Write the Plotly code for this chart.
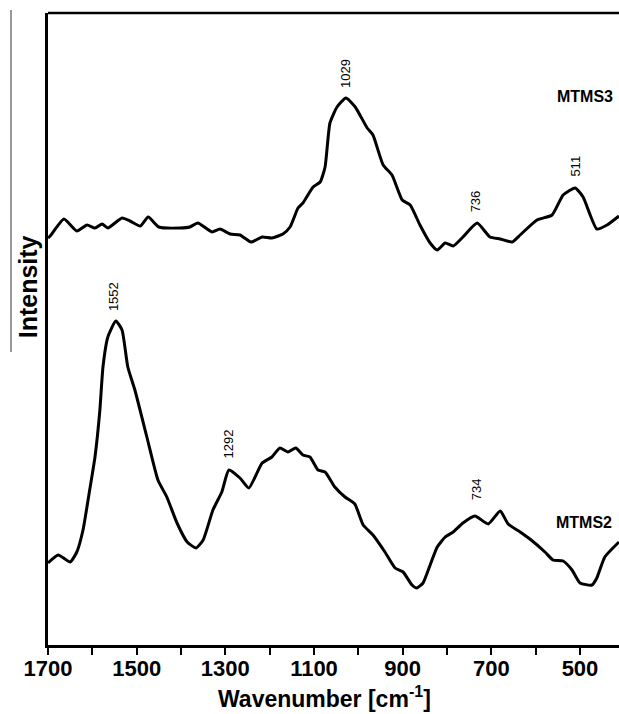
import plotly.graph_objects as go

# MTMS3 spectrum (wavenumber, intensity in arbitrary units)
w3 = [1700, 1695, 1664, 1635, 1612, 1594, 1578, 1565, 1533, 1515, 1492, 1474, 1450, 1402, 1380, 1362,
      1330, 1312, 1289, 1267, 1242, 1217, 1195, 1170, 1154, 1136, 1125, 1102, 1086, 1075, 1064, 1048,
      1028, 1007, 980, 967, 944, 924, 901, 883, 861, 838, 822, 804, 786, 764, 732, 703, 680, 653, 635,
      597, 563, 538, 511, 493, 462, 439, 412]
i3 = [407, 409, 426, 414, 420, 417, 421, 417, 427, 424, 419, 428, 418, 417, 418, 422,
      413, 416, 411, 410, 403, 408, 407, 411, 418, 437, 442, 458, 463, 478, 522, 538,
      547, 538, 517, 510, 480, 470, 445, 440, 420, 402, 395, 402, 399, 408, 422, 408, 406, 403, 410,
      425, 430, 450, 457, 448, 416, 420, 429]

# MTMS2 spectrum
w2 = [1700, 1677, 1650, 1635, 1621, 1606, 1594, 1583, 1576, 1565, 1547, 1533, 1520, 1504, 1477, 1452,
      1432, 1409, 1386, 1366, 1350, 1328, 1308, 1292, 1267, 1247, 1217, 1195, 1177, 1159, 1141, 1125,
      1109, 1091, 1075, 1053, 1030, 1008, 989, 967, 940, 917, 899, 879, 868, 854, 838, 822, 804, 786,
      764, 737, 707, 680, 662, 635, 613, 579, 561, 538, 518, 500, 473, 462, 444, 412]
i2 = [82, 90, 83, 93, 115, 155, 188, 235, 278, 308, 324, 315, 278, 255, 208, 165,
      148, 122, 103, 97, 105, 135, 153, 175, 167, 157, 182, 188, 197, 193, 197, 190,
      188, 175, 173, 158, 148, 141, 120, 110, 93, 77, 73, 60, 57, 62, 80, 98, 108, 113,
      122, 129, 121, 134, 121, 113, 106, 93, 85, 84, 75, 62, 60, 67, 88, 103]

# peak labels
peak_labels = ["1029", "736", "511", "1552", "1292", "734"]
peak_x = [1029, 736, 511, 1552, 1292, 734]
peak_y = [555, 431, 466, 332, 185, 143]

# series labels
series_names = ["MTMS3", "MTMS2"]
series_label_x = [489, 491]
series_label_y = [549, 123]

x_ticks = [1700, 1500, 1300, 1100, 900, 700, 500]

FONT = "Liberation Sans, Arial, sans-serif"

fig = go.Figure()
for w, i, name in [(w3, i3, "MTMS3"), (w2, i2, "MTMS2")]:
    fig.add_trace(go.Scatter(x=w, y=i, mode="lines", name=name,
                             line=dict(color="black", width=3, shape="spline", smoothing=0.5),
                             showlegend=False, hoverinfo="skip"))

annotations = []
for lab, x, y in zip(peak_labels, peak_x, peak_y):
    annotations.append(dict(x=x, y=y, xref="x", yref="y", text=lab, showarrow=False,
                            textangle=-90, xanchor="center", yanchor="bottom",
                            font=dict(family=FONT, size=13, color="black")))
for lab, x, y in zip(series_names, series_label_x, series_label_y):
    annotations.append(dict(x=x, y=y, xref="x", yref="y", text="<b>" + lab + "</b>", showarrow=False,
                            xanchor="center", yanchor="middle",
                            font=dict(family=FONT, size=16, color="black")))
# axis titles
annotations.append(dict(x=0.485, y=-0.083, xref="paper", yref="paper",
                        text="<b>Wavenumber [cm<sup>-1</sup>]</b>", showarrow=False,
                        xanchor="center", yanchor="middle",
                        font=dict(family=FONT, size=23, color="black")))
annotations.append(dict(x=-0.035, y=0.566, xref="paper", yref="paper",
                        text="<b>Intensity</b>", showarrow=False, textangle=-90,
                        xanchor="center", yanchor="middle",
                        font=dict(family=FONT, size=25, color="black")))

fig.update_layout(
    width=619, height=714,
    margin=dict(l=48, r=0, t=13, b=69),
    paper_bgcolor="white", plot_bgcolor="white",
    annotations=annotations,
    shapes=[
        dict(type="line", xref="paper", yref="paper", x0=0, x1=1, y0=1, y1=1,
             line=dict(color="black", width=2.5)),
        dict(type="line", xref="paper", yref="paper", x0=-0.0648, x1=-0.0648, y0=1.0047, y1=0.4636,
             line=dict(color="#777777", width=1.5)),
    ],
    xaxis=dict(range=[1700, 412], tickvals=x_ticks, ticktext=[str(t) for t in x_ticks],
               ticks="outside", ticklen=7, tickwidth=2, tickcolor="black", ticklabelstandoff=-5,
               minor=dict(ticks="outside", ticklen=7, tickwidth=2, tickcolor="black", dtick=100, tick0=1700),
               showline=True, linecolor="black", linewidth=2.5, showgrid=False, zeroline=False,
               tickfont=dict(family=FONT, size=22, color="black", weight="bold")),
    yaxis=dict(range=[0, 632], showticklabels=False, ticks="", showline=True, linecolor="black",
               linewidth=2.5, showgrid=False, zeroline=False),
)

fig.write_html("out.html")
